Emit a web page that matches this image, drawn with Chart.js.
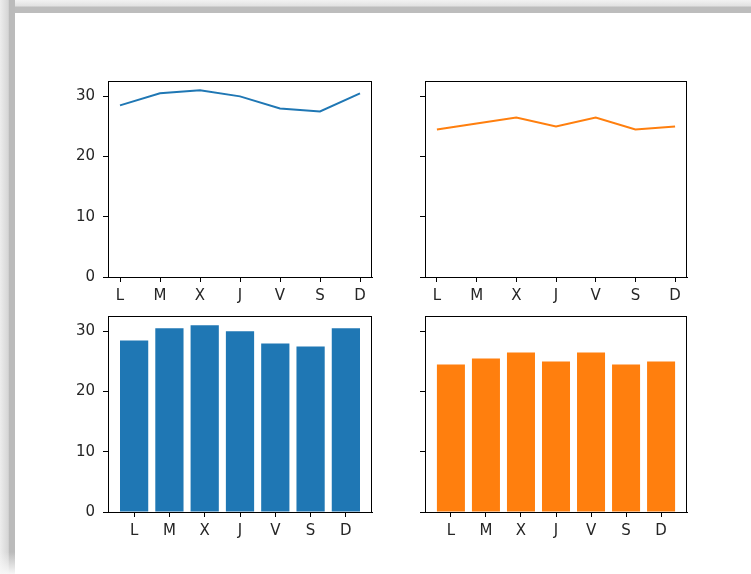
<!DOCTYPE html>
<html lang="es">
<head>
    <meta charset="UTF-8">
    <title>Temperaturas semana</title>
    <style>
        body {
            margin: 0;
            padding: 0;
            width: 751px;
            height: 574px;
            background-color: #ffffff;
            overflow: hidden;
            position: relative;
        }

        .sombra-top {
            position: absolute;
            left: 0;
            top: 0;
            width: 751px;
            height: 13px;
            background: linear-gradient(to bottom, #f2f2f2 0%, #e2e2e2 45%, #bdbdbd 55%, #bdbdbd 100%);
        }

        .sombra-left {
            position: absolute;
            left: 0;
            top: 0;
            width: 15px;
            height: 574px;
            background: linear-gradient(to right, #ededed 0%, #e0e0e0 30%, #d6d6d6 55%, #bbbbbb 62%, #bbbbbb 100%);
        }

        .sombra-left::after {
            content: "";
            position: absolute;
            left: 0;
            bottom: 0;
            width: 15px;
            height: 22px;
            background: linear-gradient(to bottom, rgba(250,250,250,0) 0%, #f7f7f7 100%);
        }

        canvas {
            position: absolute;
        }
    </style>
</head>
<body>
    <div class="sombra-top"></div>
    <div class="sombra-left"></div>

    <canvas id="chart1" width="329" height="233" style="left:48px; top:76px;"></canvas>
    <canvas id="chart2" width="327" height="233" style="left:365px; top:76px;"></canvas>
    <canvas id="chart3" width="329" height="233" style="left:48px; top:311px;"></canvas>
    <canvas id="chart4" width="327" height="233" style="left:365px; top:311px;"></canvas>

    <script src="https://cdn.jsdelivr.net/npm/chart.js"></script>
    <script>
        // datos
        var dias = ['L', 'M', 'X', 'J', 'V', 'S', 'D'];
        var tempA = [28.5, 30.5, 31, 30, 28, 27.5, 30.5];
        var tempB = [24.5, 25.5, 26.5, 25, 26.5, 24.5, 25];
        var yTicks = [0, 10, 20, 30];

        var azul = '#1f77b4';
        var naranja = '#ff7f0e';

        // marco del area de dibujo (como matplotlib)
        var marco = {
            id: 'marco',
            afterDraw: function (chart) {
                var a = chart.chartArea;
                var ctx = chart.ctx;
                ctx.save();
                ctx.strokeStyle = '#000';
                ctx.lineWidth = 1;
                ctx.strokeRect(Math.round(a.left) + 0.5, Math.round(a.top) + 0.5,
                    Math.round(a.right - a.left) - 1, Math.round(a.bottom - a.top));
                ctx.restore();
            }
        };

        function puntos(valores) {
            return valores.map(function (v, i) { return { x: i, y: v }; });
        }

        function opciones(conEtiquetas, margenX) {
            return {
                responsive: false,
                animation: false,
                devicePixelRatio: 1,
                layout: { autoPadding: false, padding: { top: 5, right: 5, left: 0, bottom: 0 } },
                plugins: { legend: { display: false }, tooltip: { enabled: false } },
                scales: {
                    x: {
                        type: 'linear',
                        min: -margenX,
                        max: dias.length - 1 + margenX,
                        offset: false,
                        afterFit: function (s) {
                            s.height = 32;
                            s.paddingLeft = 0; s.paddingRight = 0;
                        },
                        afterBuildTicks: function (s) {
                            s.ticks = dias.map(function (d, i) { return { value: i }; });
                        },
                        grid: { drawOnChartArea: false, drawTicks: true, tickLength: 5, color: '#000', offset: false },
                        border: { display: true, color: '#000' },
                        ticks: {
                            padding: 5,
                            color: '#262626',
                            maxRotation: 0,
                            font: { family: 'DejaVu Sans', size: 15 },
                            callback: function (v) { return dias[v]; }
                        }
                    },
                    y: {
                        min: 0,
                        max: 32.55,
                        afterFit: function (s) {
                            s.width = 60;
                            s.paddingTop = 0; s.paddingBottom = 0;
                        },
                        afterBuildTicks: function (s) {
                            s.ticks = yTicks.map(function (v) { return { value: v }; });
                        },
                        grid: { drawOnChartArea: false, drawTicks: true, tickLength: 5, color: '#000' },
                        border: { display: true, color: '#000' },
                        ticks: {
                            padding: 8,
                            color: '#262626',
                            font: { family: 'DejaVu Sans', size: 15 },
                            callback: function (v) { return conEtiquetas ? v : ''; }
                        }
                    }
                }
            };
        }

        var chart1 = new Chart(document.getElementById('chart1'), {
            type: 'line',
            data: {
                datasets: [{
                    data: puntos(tempA),
                    borderColor: azul,
                    borderWidth: 2,
                    pointRadius: 0,
                    fill: false
                }]
            },
            options: opciones(true, 0.3),
            plugins: [marco]
        });

        var chart2 = new Chart(document.getElementById('chart2'), {
            type: 'line',
            data: {
                datasets: [{
                    data: puntos(tempB),
                    borderColor: naranja,
                    borderWidth: 2,
                    pointRadius: 0,
                    fill: false
                }]
            },
            options: opciones(false, 0.3),
            plugins: [marco]
        });

        var chart3 = new Chart(document.getElementById('chart3'), {
            type: 'bar',
            data: {
                datasets: [{
                    data: puntos(tempA),
                    backgroundColor: azul,
                    borderWidth: 0,
                    barPercentage: 0.8,
                    categoryPercentage: 1
                }]
            },
            options: opciones(true, 0.74),
            plugins: [marco]
        });

        var chart4 = new Chart(document.getElementById('chart4'), {
            type: 'bar',
            data: {
                datasets: [{
                    data: puntos(tempB),
                    backgroundColor: naranja,
                    borderWidth: 0,
                    barPercentage: 0.8,
                    categoryPercentage: 1
                }]
            },
            options: opciones(false, 0.74),
            plugins: [marco]
        });
    </script>
</body>
</html>
